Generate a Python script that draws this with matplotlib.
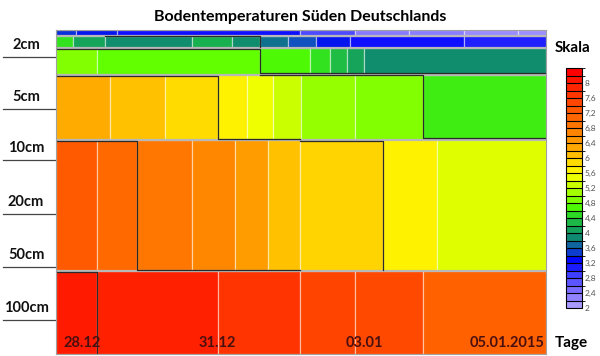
import numpy as np
import matplotlib
matplotlib.use('Agg')
import matplotlib.pyplot as plt
from matplotlib.colors import LinearSegmentedColormap, Normalize, BoundaryNorm
from matplotlib.cm import ScalarMappable

plt.rcParams['font.family'] = ['Lato', 'DejaVu Sans']

# layer bands (top/bottom, schematic units from top of the plot)
band_top = [0, 5.5, 18, 44.5, 109.5, 240.5]
band_bottom = [5.5, 18, 44.5, 109.5, 240.5, 324]

# cell edges in days since 27.12 and temperatures per band
edges_a = [0, 0.41, 1.24, 4.98, 6.10, 7.20, 8.33, 9.43, 10]
temps_a = [3.4, 3.3, 3.1, 2.7, 2.3, 2.25, 2.15, 2.1]
edges_b = [0, 0.35, 1.0, 2.78, 3.59, 4.16, 4.73, 5.31, 6.0, 8.33, 10]
temps_b = [4.5, 4.1, 3.9, 4.2, 3.9, 3.7, 3.5, 3.3, 3.1, 3.0]
edges_c = [0, 0.84, 4.16, 5.18, 5.59, 5.94, 6.29, 10]
temps_c = [4.9, 4.75, 4.65, 4.5, 4.3, 4.1, 3.9]
edges_d = [0, 1.10, 2.22, 3.31, 3.90, 4.43, 5.0, 6.10, 7.49, 10]
temps_d = [6.3, 6.1, 5.9, 5.7, 5.5, 5.3, 5.0, 4.9, 4.6]
edges_e = [0, 0.84, 1.65, 2.78, 3.65, 4.33, 4.98, 6.67, 7.78, 10]
temps_e = [7.3, 7.1, 6.9, 6.7, 6.45, 6.1, 5.95, 5.72, 5.42]
edges_f = [0, 0.84, 3.31, 4.98, 6.10, 7.49, 10]
temps_f = [8.1, 8.0, 7.8, 7.6, 7.5, 7.2]

all_edges = [edges_a, edges_b, edges_c, edges_d, edges_e, edges_f]
all_temps = [temps_a, temps_b, temps_c, temps_d, temps_e, temps_f]

# isolines
iso_x = [[1.0, 4.16, 4.16], [0, 4.16, 4.16, 10], [0, 3.31, 3.31, 4.98],
         [4.16, 7.49, 7.49, 10], [0, 1.65, 1.65, 4.98], [4.98, 6.67, 6.67],
         [0, 0.84, 0.84]]
iso_y = [[6, 6, 17], [19, 19, 43, 43], [46, 46, 109, 109],
         [45, 45, 108, 108], [111, 111, 240, 240], [111, 111, 240],
         [242, 242, 324]]

depth_labels = ['2cm', '5cm', '10cm', '20cm', '50cm', '100cm']
depth_pos = [15, 67, 118, 172, 225, 278]
date_labels = ['28.12', '31.12', '03.01', '05.01.2015']
date_pos = [0.53, 3.29, 6.29, 9.20]

# colour scale
vmin, vmax = 2.0, 8.4
anchors = [(2.0, '#a899ff'), (2.4, '#7a6cff'), (2.8, '#3f3fff'), (3.2, '#0000ff'),
           (3.5, '#1050c0'), (3.7, '#107090'), (3.9, '#109068'), (4.2, '#18b050'),
           (4.5, '#30e020'), (4.7, '#55ff00'), (4.9, '#80ff00'), (5.3, '#ccff00'),
           (5.6, '#ffff00'), (5.9, '#ffdd00'), (6.1, '#ffc000'), (6.3, '#ffaa00'),
           (6.5, '#ff9900'), (6.9, '#ff7800'), (7.3, '#ff5a00'), (7.7, '#ff3c00'),
           (8.1, '#ff1a00'), (8.4, '#ff0000')]
cmap = LinearSegmentedColormap.from_list(
    'boden', [((v - vmin) / (vmax - vmin), c) for v, c in anchors])
norm = Normalize(vmin, vmax)

fig = plt.figure(figsize=(6.0, 3.56), dpi=100)
ax = fig.add_axes([56/600, 2/356, 490/600, 324/356])

for top, bot, ed, tv in zip(band_top, band_bottom, all_edges, all_temps):
    ed = np.array(ed)
    ax.bar(ed[:-1], bot - top, width=np.diff(ed), bottom=top, align='edge',
           color=cmap(norm(np.array(tv))), edgecolor=(1, 1, 1, 0.45),
           linewidth=0.9)

# grey gaps between the layers
for b in band_top[1:]:
    ax.axhline(b, color='#b8b8b8', linewidth=1.6)

for xs, ys in zip(iso_x, iso_y):
    ax.plot(xs, ys, color='#2a2a2a', linewidth=0.9)

ax.set_xlim(0, 10)
ax.set_ylim(324, 0)
ax.set_xticks([])
ax.set_yticks([])
for s in ax.spines.values():
    s.set_color('#a0a0a0')

ytr = ax.get_yaxis_transform()
for lab, p in zip(depth_labels, depth_pos):
    ax.text(-0.061, p, lab, transform=ytr, ha='center', va='center',
            fontsize=10.5, fontweight='bold', color='#111111')
    ax.plot([-0.108, 0], [p + 12, p + 12], transform=ytr, color='#444444',
            linewidth=0.9, clip_on=False)

xtr = ax.get_xaxis_transform()
for lab, p in zip(date_labels, date_pos):
    ax.text(p, 0.034, lab, transform=xtr, ha='center', va='center',
            fontsize=10.5, fontweight='bold', color='#4a1010')

fig.text(0.5, 0.952, 'Bodentemperaturen Süden Deutschlands', ha='center',
         va='center', fontsize=11.5, fontweight='bold')
fig.text(0.925, 0.865, 'Skala', ha='left', va='center', fontsize=11,
         fontweight='bold')
fig.text(0.925, 0.037, 'Tage', ha='left', va='center', fontsize=11,
         fontweight='bold')

# discrete colour bar
levels = np.round(np.arange(2.0, 8.41, 0.2), 1)
cax = fig.add_axes([566/600, 48/356, 16/600, 240/356])
sm = ScalarMappable(norm=BoundaryNorm(levels, cmap.N), cmap=cmap)
cb = fig.colorbar(sm, cax=cax, drawedges=True)
cb.outline.set_linewidth(0.8)
cb.dividers.set_linewidth(0.8)
ticks = np.round(np.arange(2.0, 8.01, 0.4), 1)
cb.set_ticks(ticks)
cb.set_ticklabels([f'{t:g}'.replace('.', ',') for t in ticks])
cb.ax.tick_params(length=0, pad=2, labelsize=6, labelcolor='#555555')

fig.savefig('out.png', dpi=100)
